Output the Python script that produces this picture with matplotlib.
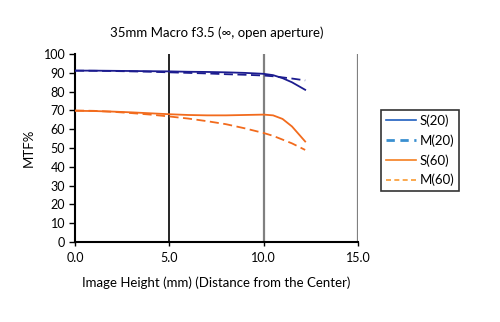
import matplotlib
matplotlib.use("Agg")
import matplotlib.pyplot as plt
from matplotlib.lines import Line2D

plt.rcParams['font.family'] = ['Lato', 'DejaVu Sans']

image_height = [0, 1, 2, 3, 4, 5, 6, 7, 8, 9, 10, 10.5, 11, 11.5, 12.2]
s20 = [91.2, 91.2, 91.1, 91.0, 90.9, 90.8, 90.6, 90.5, 90.3, 90.0, 89.5, 88.8, 87.2, 85.0, 81.0]
m20 = [91.2, 91.1, 91.0, 90.8, 90.6, 90.3, 90.0, 89.7, 89.3, 89.0, 88.6, 88.2, 87.6, 87.0, 86.0]
s60 = [69.8, 69.7, 69.4, 69.0, 68.5, 68.0, 67.6, 67.4, 67.4, 67.6, 67.8, 67.4, 65.5, 61.5, 53.5]
m60 = [70.0, 69.8, 69.3, 68.6, 67.8, 66.8, 65.7, 64.3, 62.7, 60.5, 58.0, 56.5, 54.5, 52.5, 49.0]

x_ticks = [0, 5, 10, 15]
x_labels = ["0.0", "5.0", "10.0", "15.0"]
y_ticks = list(range(0, 101, 10))
series_names = ["S(20)", "M(20)", "S(60)", "M(60)"]

fig = plt.figure(figsize=(5.0, 3.22), dpi=100)
ax = fig.add_axes([0.15, 0.2484, 0.566, 0.5836])

# vertical reference lines
ax.axvline(5, color="black", lw=1.2, zorder=1)
for xv in (10, 15):
    ax.axvline(xv, color="#808080", lw=1.6, zorder=1)

navy = "#1c1c8f"
orange = "#f26b1d"
ax.plot(image_height, s20, color=navy, lw=1.3, zorder=3)
ax.plot(image_height, m20, color=navy, lw=1.3, ls=(0, (5, 2.5)), zorder=3)
ax.plot(image_height, s60, color=orange, lw=1.3, zorder=3)
ax.plot(image_height, m60, color=orange, lw=1.3, ls=(0, (5, 2.5)), zorder=3)

ax.set_xlim(0, 15)
ax.set_ylim(0, 100)
ax.set_xticks(x_ticks)
ax.set_xticklabels(x_labels)
ax.set_yticks(y_ticks)
for s in ("top", "right"):
    ax.spines[s].set_visible(False)
ax.spines["left"].set_linewidth(1.5)
ax.spines["bottom"].set_linewidth(1.5)
ax.tick_params(axis="y", length=4, width=1, labelsize=9, pad=3)
ax.tick_params(axis="x", length=3, width=1, labelsize=9, pad=4)

ax.set_xlabel("Image Height (mm) (Distance from the Center)", fontsize=9.5, labelpad=9)
ax.set_ylabel("MTF%", fontsize=9.5, labelpad=6)
ax.set_title("35mm Macro f3.5 (\u221e, open aperture)", fontsize=9.5, pad=12)

handles = [
    Line2D([], [], color="#1f5fbf", lw=1.2),
    Line2D([], [], color="#3a8fd0", lw=2, ls=(0, (3, 2))),
    Line2D([], [], color="#f57f20", lw=1.2),
    Line2D([], [], color="#f99a30", lw=1.2, ls=(0, (3, 2))),
]
leg = fig.legend(handles, series_names, loc="center left",
                 bbox_to_anchor=(0.762, 0.533), frameon=True, fancybox=False,
                 edgecolor="black", fontsize=9.5, handlelength=2.3,
                 handletextpad=0.3, borderpad=0.35, labelspacing=0.55,
                 borderaxespad=0)
leg.get_frame().set_linewidth(1.2)

fig.savefig("out.png", dpi=100)
